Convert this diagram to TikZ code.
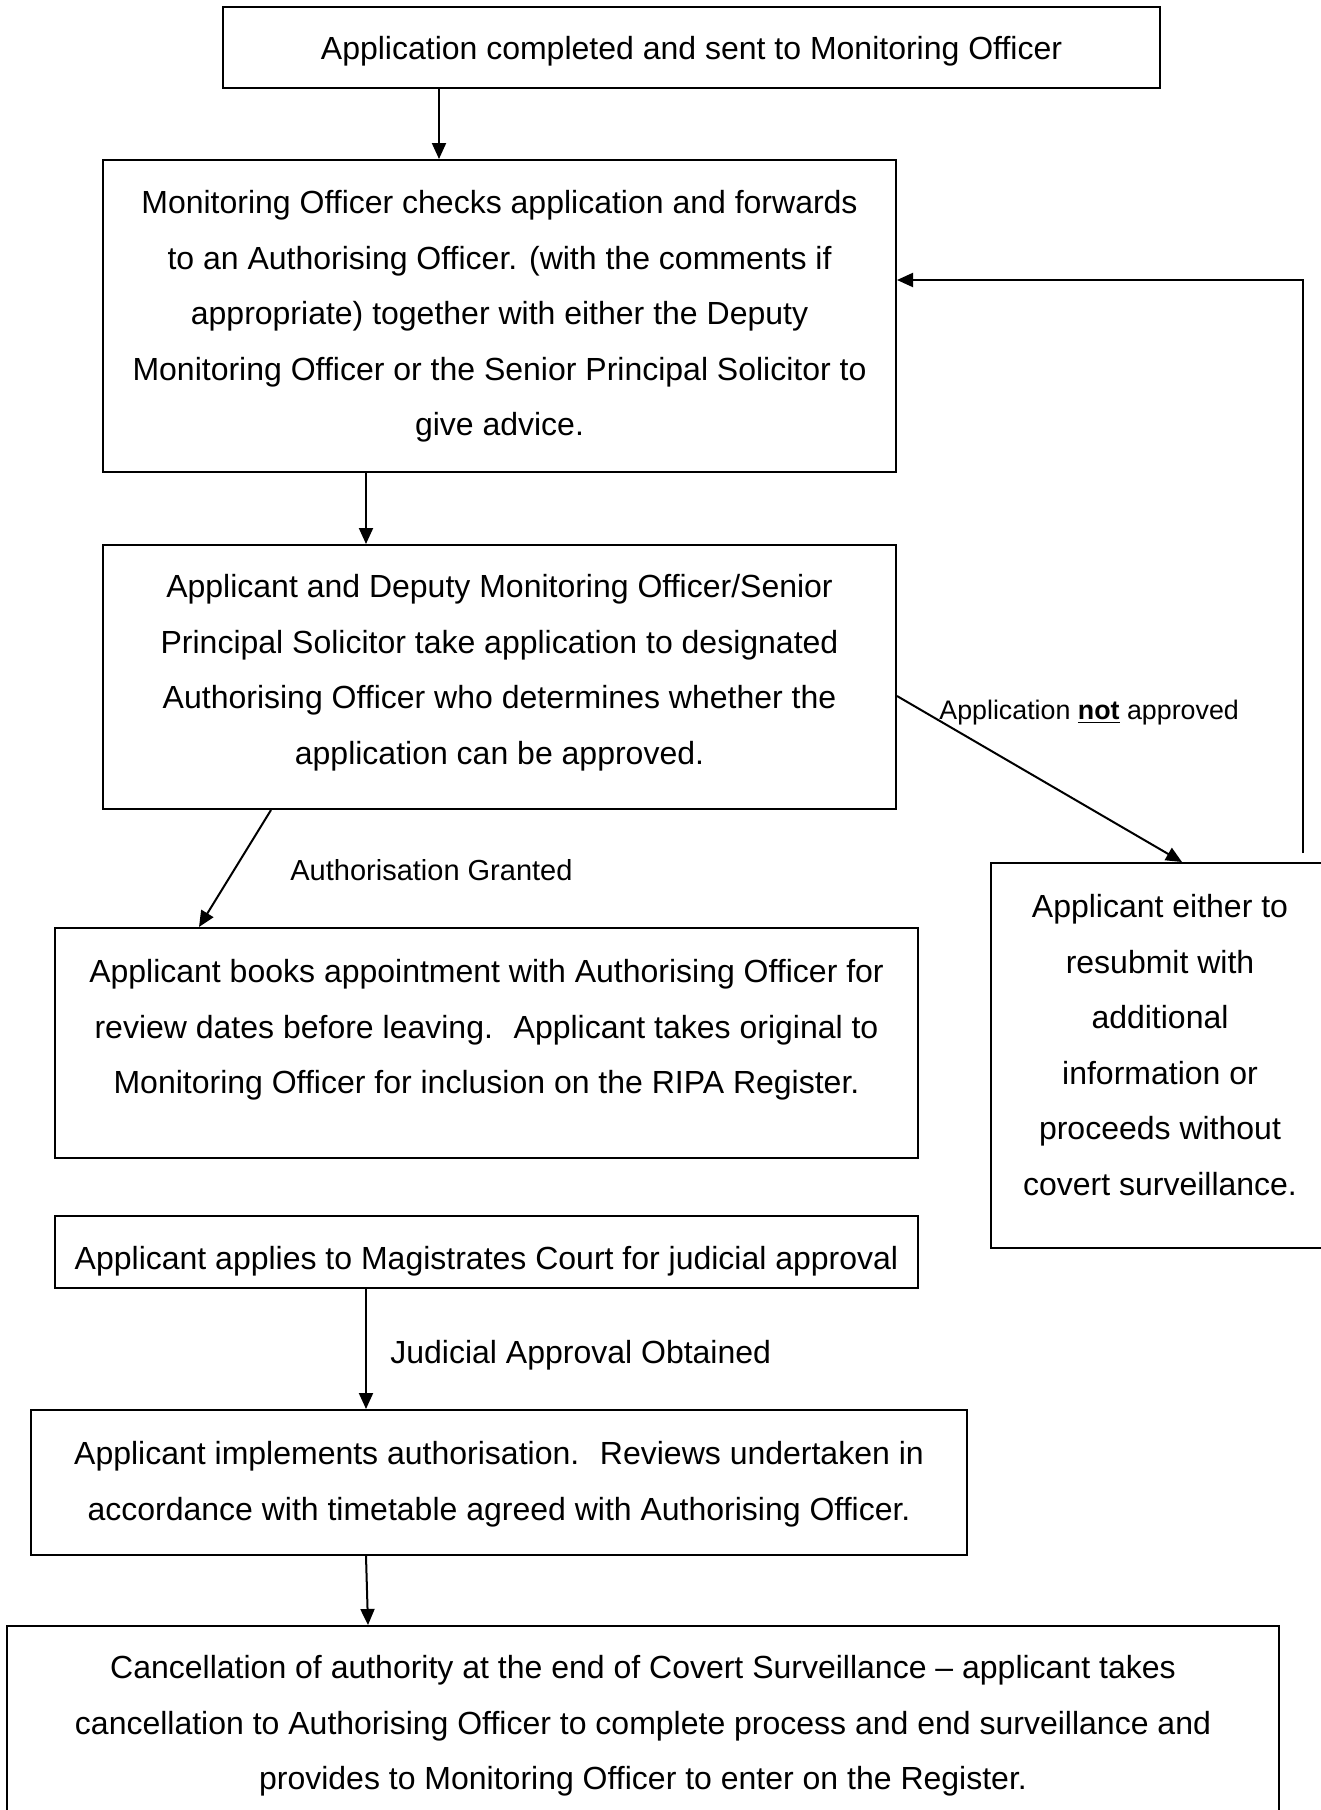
\documentclass[tikz,border=0pt]{standalone}
\usepackage{fontspec}
\setmainfont{Liberation Sans}
\usetikzlibrary{arrows.meta,fit}
\begin{document}
\begin{tikzpicture}[x=0.5pt,y=-0.5pt,
  boxst/.style={draw, line width=1pt, inner sep=0pt, rectangle},
  txt/.style={anchor=base, align=center, inner sep=0pt, font=\fontsize{16}{27.75}\selectfont},
  lbl/.style={anchor=base west, inner sep=0pt},
  arr/.style={line width=1pt, -{Triangle[length=8pt,width=7pt]}}]
\useasboundingbox (0,0) rectangle (1321,1810);

% boxes
\node[boxst, fit={(223,7) (1160,88)}] (b1) {};
\node[boxst, fit={(103,160) (896,472)}] (b2) {};
\node[boxst, fit={(103,545) (896,809)}] (b3) {};
\node[boxst, fit={(55,928) (918,1158)}] (b4) {};
\node[boxst, fit={(991,863) (1335,1248)}] (b5) {};
\node[boxst, fit={(55,1216) (918,1288)}] (b6) {};
\node[boxst, fit={(31,1410) (967,1555)}] (b7) {};
\node[boxst, fit={(7,1626) (1279,1840)}] (b8) {};

% texts (anchor base = baseline of the last line)
\node[txt] (t1) at (691.5,59.5) {Application completed and sent to Monitoring Officer};
\node[txt] (t2) at (499.5,435.5) {Monitoring Officer checks application and forwards\\to an Authorising Officer. (with the comments if\\appropriate) together with either the Deputy\\Monitoring Officer or the Senior Principal Solicitor to\\give advice.};
\node[txt] (t3) at (499.5,764) {Applicant and Deputy Monitoring Officer/Senior\\Principal Solicitor take application to designated\\Authorising Officer who determines whether the\\application can be approved.};
\node[txt] (t4) at (486.5,1093.5) {Applicant books appointment with Authorising Officer for\\review dates before leaving.~ Applicant takes original to\\Monitoring Officer for inclusion on the RIPA Register.};
\node[txt] (t5) at (1160,1195) {Applicant either to\\resubmit with\\additional\\information or\\proceeds without\\covert surveillance.};
\node[txt] (t6) at (486.5,1269.5) {Applicant applies to Magistrates Court for judicial approval};
\node[txt] (t7) at (499,1520) {Applicant implements authorisation.~ Reviews undertaken in\\accordance with timetable agreed with Authorising Officer.};
\node[txt] (t8) at (643,1789.5) {Cancellation of authority at the end of Covert Surveillance – applicant takes\\cancellation to Authorising Officer to complete process and end surveillance and\\provides to Monitoring Officer to enter on the Register.};

% labels
\node[lbl, font=\fontsize{14.5}{17}\selectfont] (l1) at (290,880) {Authorisation Granted};
\node[lbl, font=\fontsize{13.4}{16}\selectfont] (l2) at (939,719) {Application \underline{\textbf{not}} approved};
\node[lbl, font=\fontsize{16}{19}\selectfont] (l3) at (390,1363.5) {Judicial Approval Obtained};

% connectors
\draw[arr] (b1.south -| 439,0) -- (b2.north -| 439,0);
\draw[arr] (b2.south -| 366,0) -- (b3.north -| 366,0);
\draw[arr] (b3.south -| 271,0) -- (b4.north -| 199,0);
\draw[arr] (b3.east |- 0,696) -- (b5.north -| 1182,0);
\coordinate (fb) at (1303,853);
\draw[arr] (fb) -- (1303,280) -- (b2.east |- 0,280);
\draw[arr] (b6.south -| 366,0) -- (b7.north -| 366,0);
\draw[arr] (b7.south -| 366,0) -- (b8.north -| 368,0);
\end{tikzpicture}
\end{document}
